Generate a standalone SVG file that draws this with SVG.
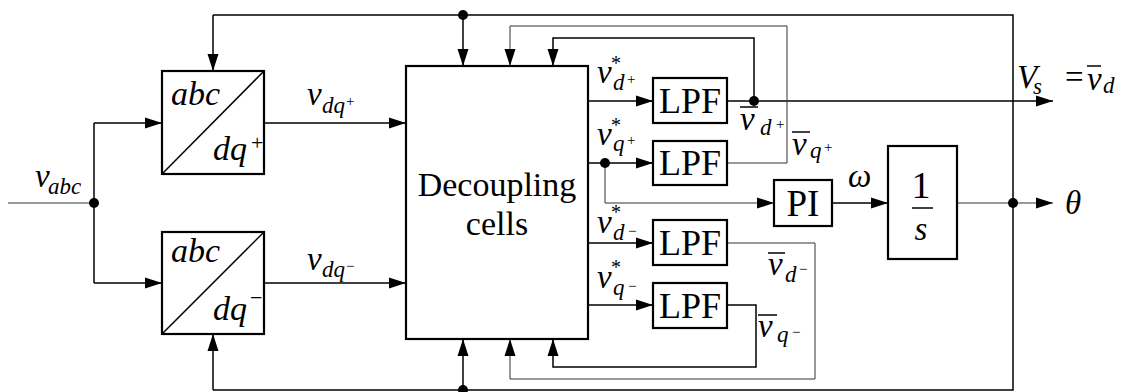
<svg xmlns="http://www.w3.org/2000/svg" width="1128" height="392" viewBox="0 0 1128 392" font-family="'Liberation Serif', 'DejaVu Serif', serif">
<defs>
<marker id="ah" markerWidth="18" markerHeight="12" refX="17" refY="6" orient="auto" markerUnits="userSpaceOnUse"><path d="M0,0.5 L17,6 L0,11.5 z" fill="#000"/></marker>
</defs>
<style>
.box{fill:#fff;stroke:#000;stroke-width:2.2}
.w{fill:none;stroke:#000;stroke-width:1.5}
.thin{fill:none;stroke:#333;stroke-width:1}
.a{marker-end:url(#ah)}
.dot{fill:#000}
text{font-family:'Liberation Serif','DejaVu Serif',serif;fill:#000}
.it{font-style:italic}
.big{font-size:33px}
.sub{font-size:23px}
.sup{font-size:15px;font-style:normal}
.ast{font-size:20px;font-style:normal}
.lbl{font-size:34px}
.lpf{font-size:36px}
.bar{stroke:#000;stroke-width:1.5}
</style>
<rect width="1128" height="392" fill="#fff"/>

<g id="connectors">
<path class="w" d="M213,15 H1013 V390 H213"/>
<path class="w a" d="M213,15 V71"/>
<path class="w a" d="M463,15 V66"/>
<path class="w a" d="M213,390 V334"/>
<path class="w a" d="M463,390 V339"/>
<path class="thin" d="M8,203 H94"/>
<path class="w" d="M94,123 V283"/>
<path class="w a" d="M94,123 H162"/>
<path class="w a" d="M94,283 H162"/>
<path class="w a" d="M264,123 H406"/>
<path class="w a" d="M264,283 H406"/>
<path class="w a" d="M588,101 H653"/>
<path class="w a" d="M588,163 H653"/>
<path class="w a" d="M588,243 H653"/>
<path class="w a" d="M588,305 H653"/>
<path class="w a" d="M727,101 H1053"/>
<path class="w a" d="M754,101 V38 H553 V66"/>
<path class="thin a" d="M727,163 H787 V26 H510 V66"/>
<path class="thin a" d="M727,243 H815 V379 H510 V339"/>
<path class="w a" d="M727,305 H756 V367 H553 V339"/>
<path class="thin a" d="M605,163 V203 H774"/>
<path class="w a" d="M832,203 H888"/>
<path class="thin a" d="M957,203 H1053"/>
<circle class="dot" cx="94" cy="203" r="5"/>
<circle class="dot" cx="463" cy="15" r="5"/>
<circle class="dot" cx="463" cy="390" r="5"/>
<circle class="dot" cx="754" cy="101" r="5"/>
<circle class="dot" cx="605" cy="163" r="5"/>
<circle class="dot" cx="1013" cy="203" r="5"/>
</g>

<g id="abc_dq_pos">
<rect class="box" x="162" y="71" width="102" height="103"/>
<line class="w" x1="162" y1="174" x2="264" y2="71"/>
<text class="it lbl" x="171" y="105">abc</text>
<text class="it lbl" x="213" y="160">dq</text>
<text x="251" y="150" font-size="22">+</text>
</g>

<g id="abc_dq_neg">
<rect class="box" x="162" y="232" width="102" height="102"/>
<line class="w" x1="162" y1="334" x2="264" y2="232"/>
<text class="it lbl" x="171" y="262">abc</text>
<text class="it lbl" x="213" y="320">dq</text>
<text x="250" y="305" font-size="22">−</text>
</g>

<g id="decoupling">
<rect class="box" x="406" y="66" width="182" height="273"/>
<text class="lbl" x="497" y="196" text-anchor="middle">Decoupling</text>
<text class="lbl" x="497" y="235" text-anchor="middle">cells</text>
</g>

<g id="lpf1"><rect class="box" x="653" y="78" width="74" height="45"/><text class="lpf" x="690" y="113" text-anchor="middle">LPF</text></g>
<g id="lpf2"><rect class="box" x="653" y="141" width="74" height="44"/><text class="lpf" x="690" y="175" text-anchor="middle">LPF</text></g>
<g id="lpf3"><rect class="box" x="653" y="220" width="74" height="45"/><text class="lpf" x="690" y="255" text-anchor="middle">LPF</text></g>
<g id="lpf4"><rect class="box" x="653" y="283" width="74" height="45"/><text class="lpf" x="690" y="318" text-anchor="middle">LPF</text></g>

<g id="pi"><rect class="box" x="774" y="180" width="58" height="46"/><text x="803" y="216" font-size="37" text-anchor="middle">PI</text></g>

<g id="integrator">
<rect class="box" x="888" y="146" width="69" height="113"/>
<text x="921" y="198" font-size="38" text-anchor="middle">1</text>
<line class="bar" x1="912" y1="208" x2="933" y2="208"/>
<text class="it big" x="921" y="240" text-anchor="middle">s</text>
</g>

<g id="labels">
<text class="it"><tspan class="big" x="35" y="187">v</tspan><tspan class="sub" x="48" y="194">abc</tspan></text>
<text class="it"><tspan class="big" x="307" y="105">v</tspan><tspan class="sub" x="322" y="113">dq</tspan><tspan class="sup" x="346" y="106">+</tspan></text>
<text class="it"><tspan class="big" x="307" y="270">v</tspan><tspan class="sub" x="322" y="277">dq</tspan><tspan class="sup" x="346" y="271">−</tspan></text>

<text class="it"><tspan class="big" x="597" y="83">v</tspan><tspan class="ast" x="611" y="70">*</tspan><tspan class="sub" x="613" y="90">d</tspan><tspan class="sup" x="627" y="84">+</tspan></text>
<text class="it"><tspan class="big" x="597" y="145">v</tspan><tspan class="ast" x="611" y="132">*</tspan><tspan class="sub" x="613" y="151">q</tspan><tspan class="sup" x="627" y="145">+</tspan></text>
<text class="it"><tspan class="big" x="597" y="233">v</tspan><tspan class="ast" x="611" y="219">*</tspan><tspan class="sub" x="613" y="240">d</tspan><tspan class="sup" x="628" y="236">−</tspan></text>
<text class="it"><tspan class="big" x="597" y="288">v</tspan><tspan class="ast" x="611" y="274">*</tspan><tspan class="sub" x="613" y="295">q</tspan><tspan class="sup" x="628" y="291">−</tspan></text>

<text class="it"><tspan class="big" x="740" y="130">v</tspan><tspan class="sub" x="760" y="135">d</tspan><tspan class="sup" x="776" y="129">+</tspan></text>
<line class="bar" x1="740" y1="107" x2="758" y2="107"/>
<text class="it"><tspan class="big" x="792" y="155">v</tspan><tspan class="sub" x="810" y="158">q</tspan><tspan class="sup" x="824" y="152">+</tspan></text>
<line class="bar" x1="792" y1="132" x2="810" y2="132"/>
<text class="it"><tspan class="big" x="768" y="275">v</tspan><tspan class="sub" x="785" y="282">d</tspan><tspan class="sup" x="799" y="274">−</tspan></text>
<line class="bar" x1="768" y1="253" x2="785" y2="253"/>
<text class="it"><tspan class="big" x="758" y="337">v</tspan><tspan class="sub" x="777" y="342">q</tspan><tspan class="sup" x="792" y="337">−</tspan></text>
<line class="bar" x1="758" y1="315" x2="777" y2="315"/>

<text class="it big" x="848" y="187">ω</text>

<text class="it"><tspan class="big" x="1017" y="88">V</tspan><tspan class="sub" x="1033" y="94">s</tspan></text>
<text class="big" x="1065" y="88">=</text>
<text class="it"><tspan class="big" x="1087" y="90">v</tspan><tspan class="sub" x="1103" y="93">d</tspan></text>
<line class="bar" x1="1087" y1="66" x2="1101" y2="66"/>

<text class="it big" x="1065" y="214">θ</text>
</g>
</svg>
